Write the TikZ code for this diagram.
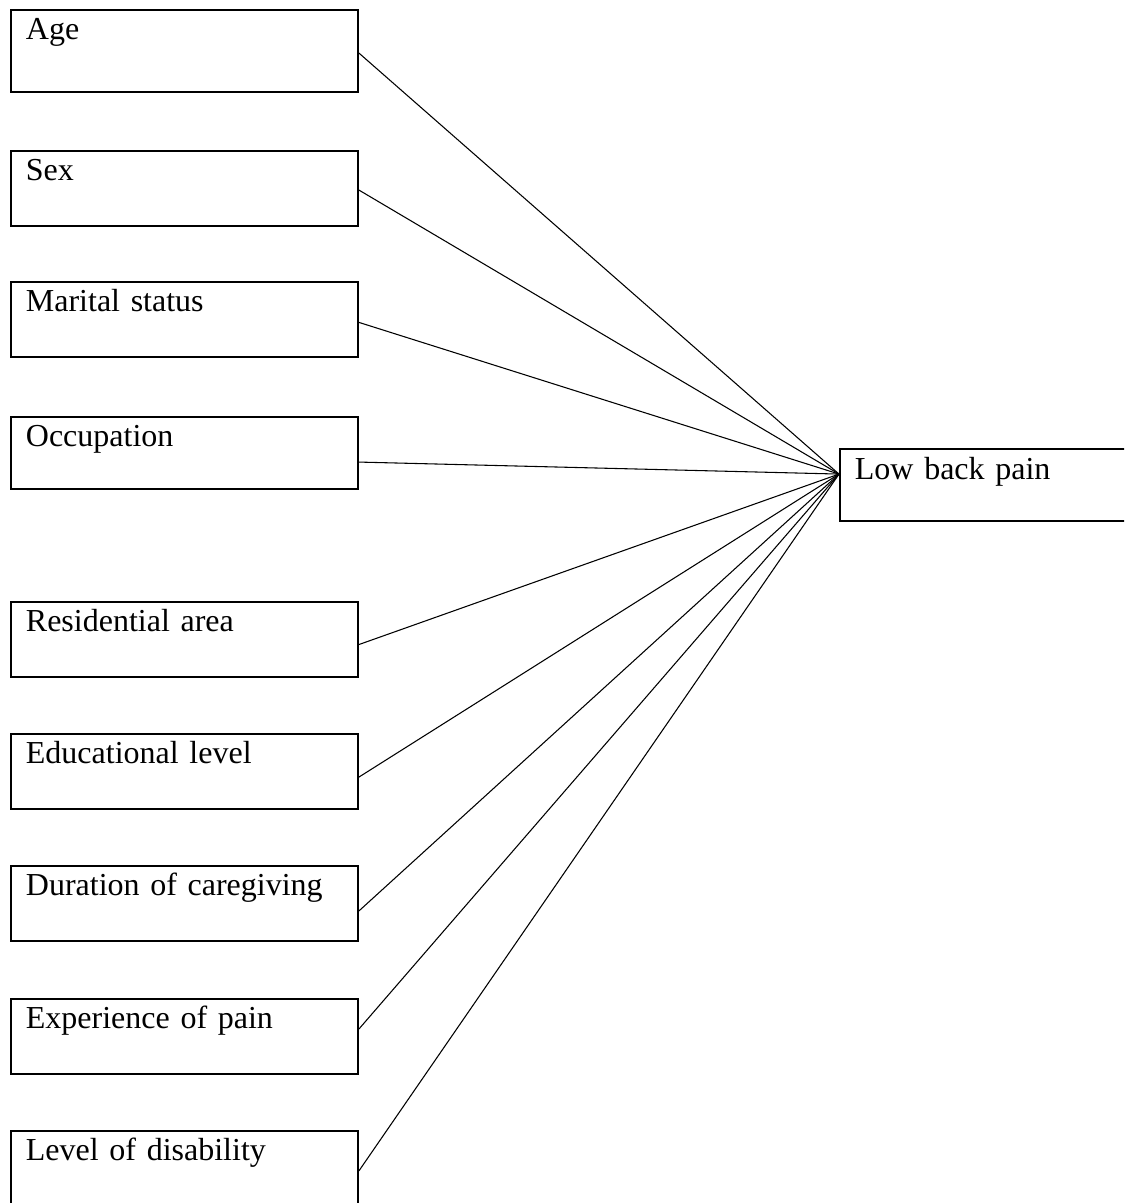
\documentclass[tikz,border=0pt]{standalone}
\usepackage{fontspec}
\setmainfont{Liberation Serif}
\usepackage{tikz}
\usetikzlibrary{positioning}

\tikzset{
  factor/.style={draw, line width=0.75pt, rectangle, anchor=north west,
    inner xsep=5.6pt, inner ysep=0pt, text width=118.9pt, align=left,
    text height=10.9pt, text depth=17.2pt, font=\fontsize{12pt}{14pt}\selectfont},
  outcome/.style={factor, text width=106pt, text height=11.25pt, text depth=15.75pt},
  link/.style={line width=0.4pt},
}

\begin{document}
\begin{tikzpicture}[
  x=0.375pt, y=-0.375pt,
]

  \useasboundingbox (0,0) rectangle (1124,1203);
  \clip (0,0) rectangle (1124,1203);

  % ── Factors ──
  \node[factor, text depth=19.9pt] (age) at (10,9)   {Age};
  \node[factor] (sex) at (10,150)  {Sex};
  \node[factor] (mar) at (10,281)  {Marital status};
  \node[factor, text depth=16.1pt] (occ) at (10,416) {Occupation};
  \node[factor] (res) at (10,601)  {Residential area};
  \node[factor] (edu) at (10,733)  {Educational level};
  \node[factor] (dur) at (10,865)  {Duration of caregiving};
  \node[factor] (exp) at (10,998)  {Experience of pain};
  \node[factor] (lvl) at (10,1130) {Level of disability};

  % ── Outcome ──
  \node[outcome] (lbp) at (839,448) {Low back pain};
  \coordinate (hub) at ([yshift=4.1pt]lbp.west);

  % ── Links ──
  \foreach \n/\s in {age/-0.75, sex/-0.6, mar/-1.1, occ/-3.4, res/-1.9,
                     edu/-2.1, dur/-2.8, exp/2.8, lvl/-0.9} {
    \draw[link] ([yshift=\s pt]\n.east) -- (hub);
  }

\end{tikzpicture}
\end{document}
